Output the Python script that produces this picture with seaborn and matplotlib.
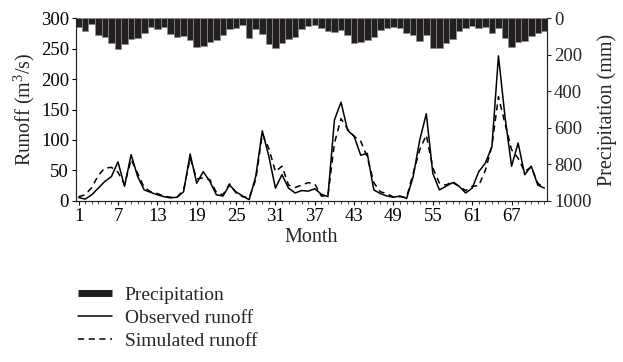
import seaborn as sns
import matplotlib.pyplot as plt
from matplotlib.lines import Line2D

sns.set_style("ticks")
plt.rcParams['font.family'] = ['Liberation Serif', 'DejaVu Serif']
plt.rcParams['mathtext.default'] = 'regular'

# 월별 자료
months = list(range(1, 73))
precipitation = [49, 73, 33, 95, 104, 137, 169, 140, 115, 108, 84, 51,
                 60, 49, 87, 106, 98, 118, 158, 153, 133, 120, 95, 60,
                 55, 38, 111, 60, 87, 140, 164, 137, 115, 104, 58, 42,
                 36, 55, 71, 77, 64, 95, 137, 131, 118, 104, 64, 55,
                 49, 55, 82, 95, 124, 91, 164, 164, 137, 115, 73, 55,
                 42, 55, 46, 82, 55, 109, 160, 133, 124, 100, 82, 73]
observed = [5.5, 3, 10, 21, 32, 40, 64, 24, 76, 40, 18, 14,
            10, 7, 5, 6, 15, 77, 29, 48, 32, 10, 8, 26,
            15, 8, 2, 40, 115, 73, 21, 43, 21, 13, 17, 16,
            20, 11, 7, 133, 162, 116, 106, 75, 78, 18, 12, 8,
            6, 8, 4, 40, 100, 143, 45, 18, 24, 30, 24, 13,
            21, 48, 62, 89, 238, 138, 57, 95, 43, 57, 26, 21]
simulated = [7, 10, 22, 42, 54, 55, 47, 27, 68, 45, 22, 15,
             12, 8, 6, 6, 18, 70, 36, 38, 35, 14, 10, 28,
             13, 7, 5, 35, 110, 86, 48, 57, 26, 22, 26, 30,
             28, 8, 8, 95, 135, 118, 106, 98, 72, 30, 15, 12,
             6, 7, 6, 45, 84, 108, 54, 29, 26, 32, 24, 17,
             24, 25, 50, 90, 171, 127, 84, 70, 48, 56, 29, 21]
month_ticks = list(range(1, 73, 6))

fig, ax = plt.subplots(figsize=(6.23, 3.62), dpi=100)
fig.subplots_adjust(left=0.122, right=0.878, top=0.95, bottom=0.445)

# 유출량 선
sns.lineplot(x=months, y=observed, ax=ax, color='black', lw=1.1)
sns.lineplot(x=months, y=simulated, ax=ax, color='black', lw=1.1,
             linestyle=(0, (4, 3)))
ax.set_xlim(0.6, 72.4)
ax.set_ylim(0, 300)
ax.set_yticks(range(0, 301, 50))
ax.set_xticks(month_ticks)
ax.set_xticks(months, minor=True)
ax.tick_params(axis='both', labelsize=13.5, length=3, width=0.8,
               colors='black', pad=2)
ax.tick_params(axis='x', which='minor', length=2, width=0.6)
ax.set_xlabel('Month', fontsize=14.5, labelpad=2)
ax.set_ylabel('Runoff (m$^{3}$/s)', fontsize=14.5, labelpad=3)
ax.spines['top'].set_visible(False)

# 강수량 막대 (거꾸로 된 오른쪽 축)
ax2 = ax.twinx()
ax2.bar(months, precipitation, width=1.0, color='#231f20',
        edgecolor='#8c8c8c', linewidth=0.5)
ax2.set_ylim(1000, 0)
ax2.set_yticks(range(0, 1001, 200))
ax2.tick_params(axis='y', labelsize=13.5, length=3, width=0.8, pad=2)
ax2.set_ylabel('Precipitation (mm)', fontsize=14.5, labelpad=4)
ax2.spines['top'].set_visible(False)
ax2.set_xlim(0.6, 72.4)

handles = [Line2D([], [], color='#231f20', lw=5, solid_capstyle='butt'),
           Line2D([], [], color='black', lw=1.1),
           Line2D([], [], color='black', lw=1.1, linestyle=(0, (4, 3)))]
labels = ['Precipitation', 'Observed runoff', 'Simulated runoff']
fig.legend(handles, labels, loc='upper left', bbox_to_anchor=(0.1124, 0.23),
           frameon=False, fontsize=14, handlelength=1.75, borderaxespad=0,
           labelspacing=0.28, handletextpad=0.67)

plt.savefig('out.png', dpi=100)
